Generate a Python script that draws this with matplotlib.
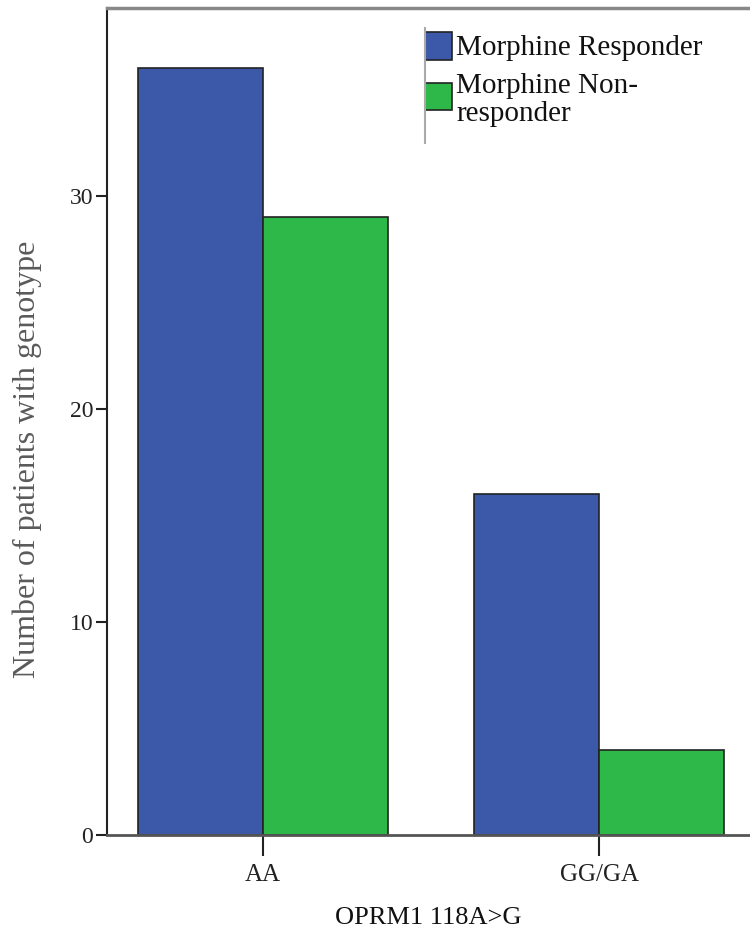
import matplotlib
matplotlib.use("Agg")
import matplotlib.pyplot as plt
import numpy as np
from matplotlib.lines import Line2D
from matplotlib.patches import Rectangle

categories = ["AA", "GG/GA"]
series_names = ["Morphine Responder", "Morphine Non-\nresponder"]
responder = [36, 16]
non_responder = [29, 4]
y_ticks = [0, 10, 20, 30]

blue = "#3C58A8"
green = "#2EB84A"

plt.rcParams['font.family'] = ['Liberation Serif', 'DejaVu Serif']

W, H = 750, 935
fig = plt.figure(figsize=(7.5, 9.35), dpi=100)
ax = fig.add_axes([107/W, 100/H, 1 - 107/W, (835 - 8)/H])

x = np.arange(len(categories))
w = 0.372
ax.bar(x - w/2, responder, width=w, color=blue, edgecolor="#222222", linewidth=1.2, label=series_names[0])
ax.bar(x + w/2, non_responder, width=w, color=green, edgecolor="#222222", linewidth=1.2, label=series_names[1])

ax.set_xlim(-0.464, 1.449)
ax.set_ylim(0, 38.8)
ax.set_yticks(y_ticks)
ax.set_xticks(x)
ax.set_xticklabels(categories)

ax.spines['right'].set_visible(False)
ax.spines['top'].set_color("#888888")
ax.spines['top'].set_linewidth(2.5)
ax.spines['left'].set_color("#222222")
ax.spines['left'].set_linewidth(1.5)
ax.spines['bottom'].set_color("#555555")
ax.spines['bottom'].set_linewidth(2.0)

ax.tick_params(axis='y', length=8, width=1.5, labelsize=17, pad=2, colors="#222222")
ax.tick_params(axis='x', length=15, width=1.5, labelsize=18, pad=6, colors="#222222")

ax.set_ylabel("Number of patients with genotype", fontsize=23, color="#5a5a5a")
ax.yaxis.set_label_coords((42 - 107)/643, (835 - 459)/827)
ax.set_xlabel("OPRM1 118A>G", fontsize=19, color="#111111", labelpad=15)

# manual legend (pixel positions converted to figure coords)
def fx(px):
    return px / W

def fy(py):
    return 1 - py / H

fig.add_artist(Line2D([fx(425), fx(425)], [fy(28), fy(143)], color="#aaaaaa", linewidth=1.5))
handles_y = [(32, 60), (83, 110)]
colors = [blue, green]
text_tops = [35, 73]
for (y0, y1), c, name, tt in zip(handles_y, colors, series_names, text_tops):
    fig.add_artist(Rectangle((fx(425), fy(y1)), fx(452) - fx(425), fy(y0) - fy(y1),
                             facecolor=c, edgecolor="#222222", linewidth=1.2,
                             transform=fig.transFigure))
    fig.text(fx(456), fy(tt), name, fontsize=21, color="#111111", ha="left", va="top",
             linespacing=1.1)

fig.savefig("out.png", dpi=100)
